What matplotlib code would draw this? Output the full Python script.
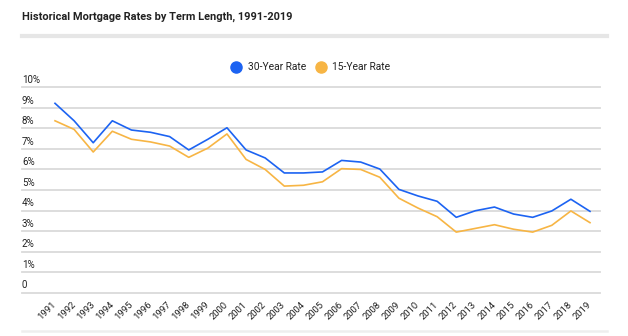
import matplotlib.pyplot as plt
from matplotlib.lines import Line2D
from matplotlib.transforms import blended_transform_factory

# ============================================================
# Data
# ============================================================

YEARS = list(range(1991, 2020))

RATE_30 = [9.22, 8.37, 7.30, 8.37, 7.92, 7.81, 7.60, 6.95, 7.47, 8.03,
           6.95, 6.56, 5.83, 5.83, 5.88, 6.44, 6.36, 6.02, 5.03, 4.71,
           4.45, 3.67, 3.99, 4.17, 3.83, 3.67, 3.98, 4.55, 3.96]

RATE_15 = [8.37, 7.95, 6.85, 7.86, 7.47, 7.34, 7.14, 6.59, 7.04, 7.73,
           6.49, 6.00, 5.19, 5.23, 5.40, 6.04, 6.00, 5.62, 4.60, 4.12,
           3.70, 2.95, 3.13, 3.31, 3.09, 2.95, 3.28, 3.98, 3.41]

Y_TICKS = list(range(0, 11))
Y_LABELS = ["0"] + [f"{v}%" for v in range(1, 11)]

SERIES_NAMES = ["30-Year Rate", "15-Year Rate"]
BLUE = "#1c63f2"
ORANGE = "#f7b544"
GRID = "#dadada"

plt.rcParams["font.family"] = ["Roboto", "DejaVu Sans"]

W, H = 628, 336
fig = plt.figure(figsize=(W / 100, H / 100), dpi=100)


def px_x(x):
    return x / W


def px_y(y):
    return 1 - y / H


# axes placement: gridlines from x=22..600, y=0 at 292.7px, y=10 at 87.3px
ax = fig.add_axes([px_x(22), px_y(292.7), px_x(600) - px_x(22), px_y(87.3) - px_y(292.7)])
step = (590 - 55) / 28
ax.set_xlim(1991 - (55 - 22) / step, 2019 + (600 - 590) / step)
ax.set_ylim(0, 10)

for v in Y_TICKS:
    ax.axhline(v, color=GRID, lw=1.3, zorder=1, clip_on=False)

ax.plot(YEARS, RATE_30, color=BLUE, lw=1.2, zorder=3, clip_on=False)
ax.plot(YEARS, RATE_15, color=ORANGE, lw=1.2, zorder=2, clip_on=False)

for s in ax.spines.values():
    s.set_visible(False)
ax.set_yticks([])
ax.set_xticks(YEARS)
ax.set_xticklabels([str(y) for y in YEARS], rotation=45, ha="right", va="center",
                   rotation_mode="anchor", fontsize=6.8, color="#222222")
ax.tick_params(axis="x", length=0, pad=7.5)

# y labels sit just above each gridline, left aligned
trans = blended_transform_factory(ax.transAxes, ax.transData)
for v, lab in zip(Y_TICKS, Y_LABELS):
    ax.text(0, v + 0.11, lab, transform=trans, ha="left", va="bottom",
            fontsize=7, color="#222222")

# title and separators
fig.text(px_x(22), px_y(16.5), "Historical Mortgage Rates by Term Length, 1991-2019",
         ha="left", va="center", fontsize=7.9, fontweight="bold", color="#222222")
fig.add_artist(Line2D([px_x(22), px_x(607)], [px_y(35.5), px_y(35.5)], color="#e6e6e6", lw=3))
fig.add_artist(Line2D([px_x(22), px_x(607)], [px_y(331), px_y(331)], color="#eeeeee", lw=1.8))

# legend
for cx, col, name in [(236, BLUE, SERIES_NAMES[0]), (321, ORANGE, SERIES_NAMES[1])]:
    fig.add_artist(Line2D([px_x(cx)], [px_y(67)], marker="o", markersize=8,
                          color=col, linestyle="none"))
    fig.text(px_x(cx + 11.5), px_y(67), name, ha="left", va="center",
             fontsize=7.4, color="#222222")

fig.savefig("out.png", dpi=100)
